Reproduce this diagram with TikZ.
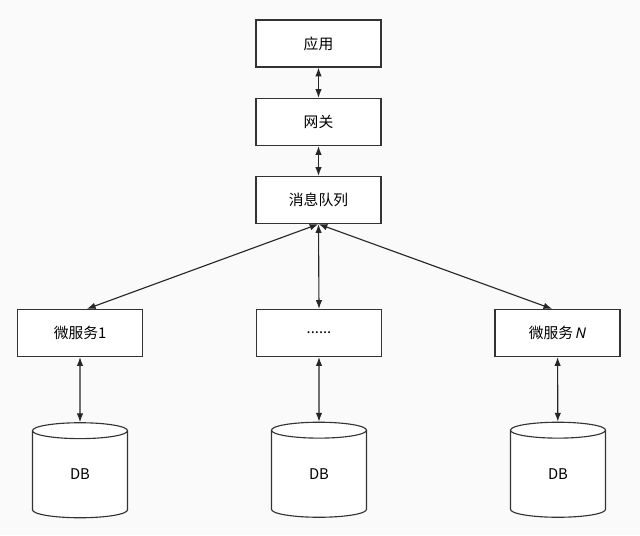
\documentclass[tikz,border=0pt]{standalone}
\usepackage{fontspec}
\setmainfont{Noto Sans CJK SC}
\newfontfamily\latinsans{Noto Sans}
\usepackage{tikz}
\usetikzlibrary{arrows.meta,shapes.geometric}

\begin{document}
\begin{tikzpicture}[x=0.025cm,y=-0.025cm,>={Latex[length=2.2mm,width=1.6mm]},
  font=\fontsize{10.5}{12}\selectfont,line width=0.8pt,
  box/.style={draw=black!80,fill=white,minimum width=3.125cm,minimum height=1.175cm,inner sep=0pt},
  db/.style={draw=black!80,fill=white,cylinder,shape border rotate=90,aspect=0.8,
    minimum width=2.375cm,minimum height=2.375cm,inner sep=0pt},
  link/.style={<->,draw=black!85}]
\fill[black!2] (0,0) rectangle (640,535);
\useasboundingbox (0,0) rectangle (640,535);
% upper chain
\node[box] (app) at (318.5,43.5) {应用};
\node[box] (gw) at (318.5,122) {网关};
\node[box] (mq) at (318.5,200) {消息队列};
% services
\node[box] (ms1) at (80,333) {微服务1};
\node[box] (msx) at (319,333) {......};
\node[box] (msn) at (557.5,333) {微服务\,{\latinsans\itshape N}};
% databases
\node[db] (db1) at (80,474.5) {DB};
\node[db] (dbx) at (319,474) {DB};
\node[db] (dbn) at (558,474) {DB};
% links
\draw[link] (app) -- (gw);
\draw[link] (gw) -- (mq);
\draw[link] (mq.south) -- ([xshift=0.17cm]ms1.north);
\draw[link] (mq.south) -- (msx.north);
\draw[link] (mq.south) -- ([xshift=-0.13cm]msn.north);
\draw[link] (ms1) -- (db1);
\draw[link] (msx) -- (dbx);
\draw[link] (msn) -- (dbn);
\end{tikzpicture}
\end{document}
